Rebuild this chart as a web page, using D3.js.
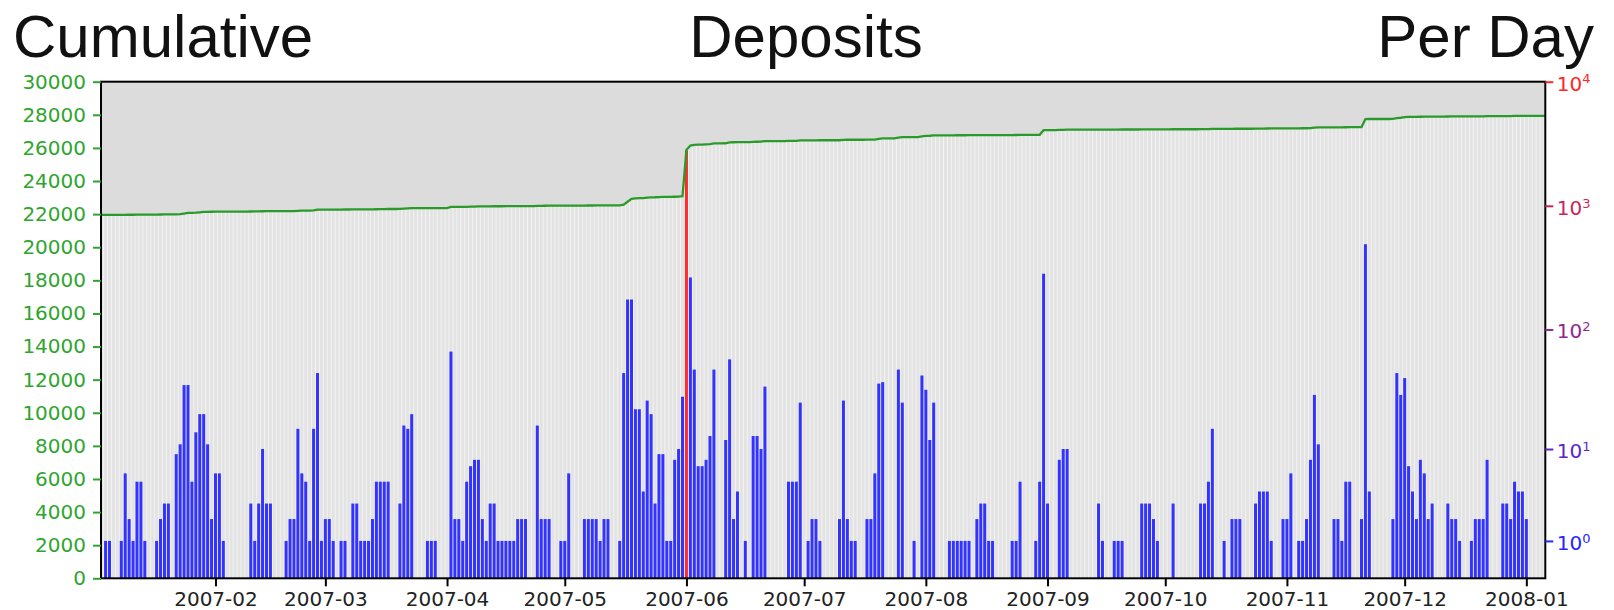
<!DOCTYPE html>
<html>
<head>
<meta charset="utf-8">
<script src="https://cdn.jsdelivr.net/npm/d3@7"></script>
<style>
  html, body { margin: 0; padding: 0; background: #fff; }
  svg { display: block; }
</style>
</head>
<body>
<div id="chart"></div>
<script>

// deposits per day, one array per month, first value is 2007-01-03
const firstDay = '2007-01-03';
const jan07 = [0,1,1,0,0,1,6,2,1,5,5,1,0,0,1,2,3,3,0,9,11,35,35,5,14,20,20,11,2];
const feb07 = [6,6,1,0,0,0,0,0,0,3,1,3,10,3,3,0,0,0,1,2,2,15,6,5,1,15,44,1];
const mar07 = [2,2,1,0,1,1,0,3,3,1,1,1,2,5,5,5,5,0,0,3,16,15,20,0,0,0,1,1,1,0,0];
const apr07 = [0,66,2,2,1,5,7,8,8,2,1,3,3,1,1,1,1,1,2,2,2,0,0,16,2,2,2,0,0,1];
const may07 = [1,6,0,0,0,2,2,2,2,1,2,2,0,0,1,44,175,175,22,22,4,26,20,3,9,9,1,1,8,10,28];
const jun07 = [2790,264,47,7,7,8,13,47,0,0,12,57,2,4,0,1,0,13,13,10,34,0,0,0,0,0,5,5,5,25];
const jul07 = [0,1,2,2,1,0,0,0,0,2,26,2,1,1,0,0,2,2,6,36,37,0,0,0,47,25,0,0,1,0,42];
const aug07 = [32,12,25,0,0,0,1,1,1,1,1,1,0,2,3,3,1,1,0,0,0,0,1,1,5,0,0,0,1,5,283];
const sep07 = [3,0,0,8,10,10,0,0,0,0,0,0,0,3,1,0,0,1,1,1,0,0,0,0,3,3,3,2,1,0];
const oct07 = [0,0,3,0,0,0,0,0,0,3,3,5,15,0,0,1,0,2,2,2,0,0,0,3,4,4,4,1,0,0,2];
const nov07 = [2,6,0,1,1,2,8,29,11,0,0,0,2,2,1,5,5,0,0,2,490,4,0,0,0,0,0,2,44,29];
const dec07 = [40,7,4,2,8,6,2,3,0,0,0,3,2,2,1,0,0,1,2,2,2,8,0,0,0,3,3,2,5,4,4];
const jan08 = [2,0,0,0,0];

// total deposits before the first day
const baseTotal = 21950;

const leftTicks = d3.range(0, 30001, 2000);
const rightTicks = [1, 10, 100, 1000, 10000];
const titles = ['Cumulative', 'Deposits', 'Per Day'];

const w = 1614, h = 610;
const pL = 101, pR = 1545.3, pB = 578.3, pT = 81.7;
const tickFont = '"DejaVu Sans", Verdana, sans-serif';
const green = '#2fa52f';

const perDay = [].concat(jan07, feb07, mar07, apr07, may07, jun07, jul07, aug07, sep07, oct07, nov07, dec07, jan08);
const day0 = d3.utcParse('%Y-%m-%d')(firstDay);
let run = baseTotal;
const rows = perDay.map((n, i) => {
    run += n;
    return { date: d3.utcDay.offset(day0, i), n: n, total: run };
});
const last = rows[rows.length - 1];

const xScale = d3.scaleUtc()
    .domain([d3.utcHour.offset(day0, -4), d3.utcHour.offset(last.date, 20)])
    .range([pL, pR]);
const yTotal = d3.scaleLinear().domain([0, 30000]).range([pB, pT]);
const yDay = d3.scaleSymlog().constant(1).domain([0, 10000]).range([pB, pT]);
const tickColor = d3.scaleLinear().domain([0, 4]).range(['#2626ff', '#ff2626']).interpolate(d3.interpolateRgb);

const svg = d3.select('#chart').append('svg').attr('width', w).attr('height', h);

svg.append('rect').attr('x', pL).attr('y', pT).attr('width', pR - pL).attr('height', pB - pT).attr('fill', '#dcdcdc');

// line runs to both edges of the frame
const edge = [{ date: xScale.domain()[0], total: rows[0].total }].concat(rows, [{ date: xScale.domain()[1], total: last.total }]);

svg.append('path').datum(edge)
    .attr('fill', '#f4f4f4')
    .attr('d', d3.area().x(d => xScale(d.date)).y0(pB).y1(d => yTotal(d.total)));

svg.append('g').selectAll('rect').data(rows).enter().append('rect')
    .attr('x', d => xScale(d.date) - 1.5)
    .attr('width', 3)
    .attr('y', d => yTotal(d.total))
    .attr('height', d => pB - yTotal(d.total))
    .attr('fill', '#e3e3e3');

svg.append('g').selectAll('rect').data(rows.filter(d => d.n > 0)).enter().append('rect')
    .attr('x', d => xScale(d.date) - 1.5)
    .attr('width', 3)
    .attr('y', d => yDay(d.n))
    .attr('height', d => pB - yDay(d.n))
    .attr('fill', d => d.n > 1000 ? '#ff2a2a' : '#3333ff');

svg.append('path').datum(edge)
    .attr('fill', 'none')
    .attr('stroke', '#2a9a2a')
    .attr('stroke-width', 2.3)
    .attr('d', d3.line().x(d => xScale(d.date)).y(d => yTotal(d.total)));

svg.append('rect').attr('x', pL).attr('y', pT).attr('width', pR - pL).attr('height', pB - pT)
    .attr('fill', 'none').attr('stroke', '#000').attr('stroke-width', 2);

const yAxisL = svg.append('g').attr('transform', `translate(${pL},0)`)
    .call(d3.axisLeft(yTotal).tickValues(leftTicks).tickSize(8).tickPadding(7).tickFormat(d3.format('d')));
yAxisL.select('.domain').remove();
yAxisL.selectAll('line').attr('stroke', green).attr('stroke-width', 2);
yAxisL.selectAll('text').attr('fill', green).style('font', `20px ${tickFont}`);

const xAxis = svg.append('g').attr('transform', `translate(0,${pB})`)
    .call(d3.axisBottom(xScale).ticks(d3.utcMonth.every(1)).tickFormat(d3.utcFormat('%Y-%m')).tickSize(8).tickPadding(6));
xAxis.select('.domain').remove();
xAxis.selectAll('line').attr('stroke', '#000').attr('stroke-width', 2);
xAxis.selectAll('text').attr('fill', '#222').style('font', `20px ${tickFont}`);

const yAxisR = svg.append('g').attr('transform', `translate(${pR},0)`)
    .call(d3.axisRight(yDay).tickValues(rightTicks).tickSize(8).tickFormat(''));
yAxisR.select('.domain').remove();
yAxisR.selectAll('line').attr('stroke', (d, i) => tickColor(i)).attr('stroke-width', 2);
yAxisR.selectAll('.tick').each(function (d, i) {
    const t = d3.select(this).select('text')
        .attr('x', 11.5).attr('dy', '0.42em')
        .attr('fill', tickColor(i))
        .style('font', `20px ${tickFont}`)
        .text('10');
    t.append('tspan').attr('dy', '-0.55em').style('font-size', '13px').text(Math.round(Math.log10(d)));
});

svg.append('g').selectAll('text').data(titles).enter().append('text')
    .attr('x', (d, i) => [13, 806, 1594][i])
    .attr('y', 57)
    .attr('text-anchor', (d, i) => ['start', 'middle', 'end'][i])
    .style('font', '60px "Liberation Sans", Arial, sans-serif')
    .attr('fill', '#111')
    .text(d => d);

</script>
</body>
</html>
